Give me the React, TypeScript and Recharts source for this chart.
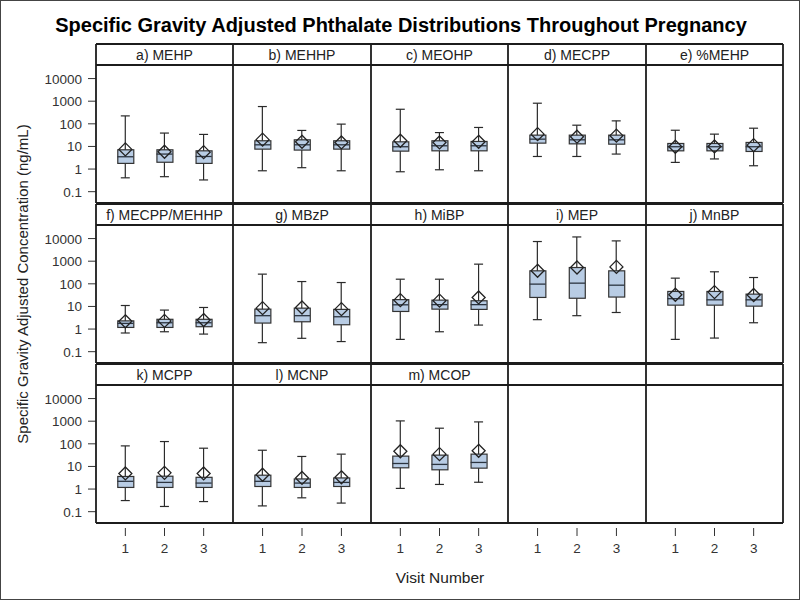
import React from "react";
import { Bar, ComposedChart, Scatter, XAxis, YAxis } from "recharts";

const panelLabels = [
  "a) MEHP",
  "b) MEHHP",
  "c) MEOHP",
  "d) MECPP",
  "e) %MEHP",
  "f) MECPP/MEHHP",
  "g) MBzP",
  "h) MiBP",
  "i) MEP",
  "j) MnBP",
  "k) MCPP",
  "l) MCNP",
  "m) MCOP",
];
const visits = [1, 2, 3];
const yTicks = [0.1, 1, 10, 100, 1000, 10000];

// one row per panel, one value per visit
const whiskerLow = [
  [0.41, 0.46, 0.33],
  [0.84, 1.15, 0.84],
  [0.76, 0.93, 0.84],
  [3.6, 3.6, 4.6],
  [1.97, 2.8, 1.4],
  [0.67, 0.76, 0.6],
  [0.25, 0.39, 0.28],
  [0.35, 0.76, 1.5],
  [2.6, 3.9, 5.4],
  [0.35, 0.4, 1.9],
  [0.31, 0.17, 0.28],
  [0.18, 0.41, 0.24],
  [1.07, 1.6, 2.0],
];
const q1 = [
  [1.78, 2.0, 1.78],
  [7.6, 6.9, 7.6],
  [6.2, 6.4, 6.4],
  [14, 13, 12.6],
  [6.4, 6.4, 6],
  [1.18, 1.18, 1.27],
  [1.84, 2.1, 1.55],
  [6, 7.6, 7.4],
  [25, 23, 26],
  [11.4, 11.4, 10.3],
  [1.18, 1.18, 1.18],
  [1.3, 1.18, 1.3],
  [8.7, 7.1, 8.4],
];
const medians = [
  [3.5, 4.6, 3.6],
  [11.8, 11.8, 11.8],
  [9.7, 10.7, 10.7],
  [21, 19.6, 19.6],
  [9.7, 9.7, 9.7],
  [1.78, 1.9, 1.9],
  [3.9, 3.9, 3.5],
  [11.8, 12, 12],
  [97, 107, 87],
  [22, 19.6, 19.6],
  [2.2, 1.97, 1.84],
  [2.2, 1.84, 1.97],
  [13.5, 12.3, 15],
];
const q3 = [
  [7.1, 7.1, 6.4],
  [17.8, 19.6, 17.8],
  [16, 17.8, 16.6],
  [31.6, 31.6, 31.6],
  [13.5, 13.5, 15],
  [2.3, 2.7, 2.7],
  [7.6, 8.4, 7.4],
  [20, 19, 17.8],
  [375, 525, 375],
  [46, 46, 35],
  [3.6, 3.7, 3.3],
  [4.1, 2.8, 3.1],
  [28.6, 31.6, 35],
];
const whiskerHigh = [
  [224, 39, 34],
  [580, 51, 97],
  [440, 41, 69],
  [815, 87, 135],
  [52, 35, 64],
  [11, 6.9, 9],
  [268, 126, 114],
  [160, 160, 740],
  [7400, 11800, 7900],
  [178, 340, 190],
  [81, 126, 64],
  [52, 27.6, 35],
  [1030, 490, 930],
];
const means = [
  [7.4, 5.8, 5.6],
  [20, 16, 15],
  [17.8, 15, 16],
  [35, 27, 30],
  [9.7, 10, 11.4],
  [2.2, 2.3, 2.5],
  [8.4, 9, 7.6],
  [19, 18, 25],
  [375, 525, 560],
  [33, 43, 32],
  [4.9, 5.2, 4.9],
  [4.3, 3.1, 3.3],
  [47, 35, 49],
];

const FONT = "'Liberation Sans', Arial, sans-serif";
const COLS = 5;
const ROWS = 3;
const X0 = 95;
const COL_W = 137.4;
const ROW_Y0 = 43;
const ROW_PITCH = 160;
const HEAD_H = 21;
const PLOT_H = 138;
const Y_AXIS_W = 60;
const X_AXIS_H = 45;
const Y_DOMAIN = [0.0316, 39810];
const BOX_W = 16;
const CAP_W = 9;
const INK = "#2a2a2a";

const colX = (c: number) => Math.round(X0 + c * COL_W);

const Whisker = (props: any) => {
  const { x, y, width, height } = props;
  if (x == null || y == null || isNaN(y)) return null;
  const cx = x + width / 2;
  const top = Math.min(y, y + height);
  const bot = Math.max(y, y + height);
  return (
    <g stroke={INK} strokeWidth={1.2}>
      <line x1={cx} x2={cx} y1={top} y2={bot} />
      <line x1={cx - width / 2} x2={cx + width / 2} y1={top} y2={top} />
      <line x1={cx - width / 2} x2={cx + width / 2} y1={bot} y2={bot} />
    </g>
  );
};

const BoxShape = (props: any) => {
  const { x, y, width, height } = props;
  if (x == null || y == null || isNaN(y)) return null;
  return (
    <rect
      x={x}
      y={Math.min(y, y + height)}
      width={width}
      height={Math.abs(height)}
      fill="#b8cce4"
      stroke="#333"
      strokeWidth={1.2}
    />
  );
};

const MedianShape = (props: any) => {
  const { cx, cy } = props;
  if (cx == null || cy == null) return null;
  return (
    <line x1={cx - BOX_W / 2} x2={cx + BOX_W / 2} y1={cy} y2={cy} stroke="#2b3440" strokeWidth={1.3} />
  );
};

const MeanShape = (props: any) => {
  const { cx, cy } = props;
  if (cx == null || cy == null) return null;
  const r = 6.5;
  return (
    <path
      d={`M${cx},${cy - r}L${cx + r},${cy}L${cx},${cy + r}L${cx - r},${cy}Z`}
      fill="none"
      stroke="#222"
      strokeWidth={1.3}
    />
  );
};

const YTick = (props: any) => {
  const { x, y, payload } = props;
  return (
    <g>
      <line x1={x - 8} x2={x} y1={y} y2={y} stroke="#333" />
      <text x={x - 14} y={y} dy={5} textAnchor="end" fontSize={13.5} fill="#333" fontFamily={FONT}>
        {String(payload.value)}
      </text>
    </g>
  );
};

const XTick = (props: any) => {
  const { x, y, payload } = props;
  return (
    <g>
      <line x1={x} x2={x} y1={y + 5} y2={y + 13} stroke="#333" />
      <text x={x} y={y + 25} dy={5} textAnchor="middle" fontSize={13.5} fill="#333" fontFamily={FONT}>
        {String(payload.value)}
      </text>
    </g>
  );
};

const Panel = ({ idx, col, row }: { idx: number; col: number; row: number }) => {
  const showY = col === 0;
  const showX = row === ROWS - 1;
  const hasData = idx < panelLabels.length;
  const data = visits.map((v, i) =>
    hasData
      ? {
          visit: v,
          whisker: [whiskerLow[idx][i], whiskerHigh[idx][i]],
          box: [q1[idx][i], q3[idx][i]],
          median: medians[idx][i],
          mean: means[idx][i],
        }
      : { visit: v }
  );
  const left = colX(col);
  const w = colX(col + 1) - left;
  const top = ROW_Y0 + row * ROW_PITCH + HEAD_H;
  return (
    <div
      style={{
        position: "absolute",
        left: showY ? left - Y_AXIS_W : left,
        top,
      }}
    >
      <ComposedChart
        width={w + (showY ? Y_AXIS_W : 0)}
        height={PLOT_H + (showX ? X_AXIS_H : 0)}
        data={data}
        margin={{ top: 0, right: 0, bottom: 0, left: 0 }}
      >
        <XAxis
          xAxisId="x"
          dataKey="visit"
          type="number"
          domain={[0.25, 3.75]}
          ticks={visits}
          interval={0}
          hide={!showX}
          height={showX ? X_AXIS_H : 0}
          axisLine={false}
          tickLine={false}
          tickSize={0}
          tickMargin={0}
          tick={XTick}
        />
        <XAxis xAxisId="wx" dataKey="visit" type="number" domain={[0.25, 3.75]} height={0} hide />
        <XAxis xAxisId="bx" dataKey="visit" type="number" domain={[0.25, 3.75]} height={0} hide />
        <YAxis
          type="number"
          scale="log"
          domain={Y_DOMAIN}
          allowDataOverflow
          ticks={yTicks}
          interval={0}
          hide={!showY}
          width={showY ? Y_AXIS_W : 0}
          axisLine={false}
          tickLine={false}
          tickSize={0}
          tickMargin={0}
          tick={YTick}
        />
        {hasData && (
          <Bar xAxisId="wx" dataKey="whisker" barSize={CAP_W} shape={Whisker} isAnimationActive={false} />
        )}
        {hasData && (
          <Bar xAxisId="bx" dataKey="box" barSize={BOX_W} shape={BoxShape} isAnimationActive={false} />
        )}
        {hasData && (
          <Scatter xAxisId="x" dataKey="median" shape={MedianShape} isAnimationActive={false} />
        )}
        {hasData && (
          <Scatter xAxisId="x" dataKey="mean" shape={MeanShape} isAnimationActive={false} />
        )}
      </ComposedChart>
    </div>
  );
};

const Frame = () => {
  const lines: React.ReactNode[] = [];
  for (let r = 0; r < ROWS; r++) {
    const t = ROW_Y0 + r * ROW_PITCH;
    const h = t + HEAD_H;
    const b = h + PLOT_H;
    const xl = colX(0);
    const xr = colX(COLS);
    lines.push(<line key={`t${r}`} x1={xl} x2={xr} y1={t} y2={t} />);
    lines.push(<line key={`h${r}`} x1={xl} x2={xr} y1={h} y2={h} />);
    lines.push(<line key={`b${r}`} x1={xl} x2={xr} y1={b} y2={b} />);
    for (let c = 0; c <= COLS; c++) {
      lines.push(<line key={`v${r}-${c}`} x1={colX(c)} x2={colX(c)} y1={t} y2={b} />);
    }
  }
  return (
    <svg width={800} height={600} style={{ position: "absolute", left: 0, top: 0, pointerEvents: "none" }}>
      <g stroke="#1c1c1c" strokeWidth={1.8}>{lines}</g>
      {panelLabels.map((label, i) => {
        const c = i % COLS;
        const r = Math.floor(i / COLS);
        return (
          <text
            key={label}
            x={(colX(c) + colX(c + 1)) / 2}
            y={ROW_Y0 + r * ROW_PITCH + HEAD_H / 2 + 5}
            textAnchor="middle"
            fontSize={14}
            fill="#222"
            fontFamily={FONT}
          >
            {label}
          </text>
        );
      })}
      <text
        transform="translate(27,283) rotate(-90)"
        textAnchor="middle"
        fontSize={15}
        fill="#222"
        fontFamily={FONT}
      >
        Specific Gravity Adjusted Concentration (ng/mL)
      </text>
      <text x={439} y={582} textAnchor="middle" fontSize={15.5} fill="#222" fontFamily={FONT}>
        Visit Number
      </text>
      <text x={400} y={31} textAnchor="middle" fontSize={20} fontWeight="bold" fill="#000" fontFamily={FONT}>
        Specific Gravity Adjusted Phthalate Distributions Throughout Pregnancy
      </text>
    </svg>
  );
};

export default function App() {
  const cells: React.ReactNode[] = [];
  for (let r = 0; r < ROWS; r++) {
    for (let c = 0; c < COLS; c++) {
      const idx = r * COLS + c;
      cells.push(<Panel key={idx} idx={idx} col={c} row={r} />);
    }
  }
  return (
    <div
      style={{
        position: "absolute",
        left: 0,
        top: 0,
        width: 800,
        height: 600,
        boxSizing: "border-box",
        border: "1px solid #444",
        background: "#fff",
        fontFamily: FONT,
        overflow: "hidden",
      }}
    >
      {cells}
      <Frame />
    </div>
  );
}
